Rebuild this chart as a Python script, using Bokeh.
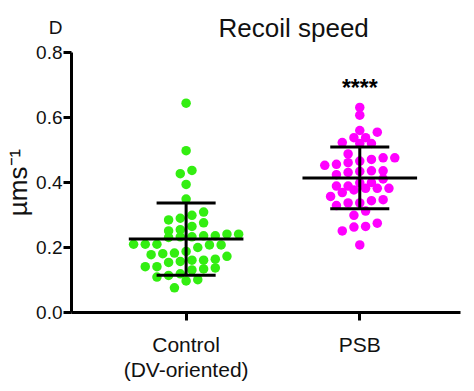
import numpy as np
from bokeh.plotting import figure
from bokeh.models import Range1d, FixedTicker, Label
from bokeh.core.properties import value
from bokeh.embed import file_html
from bokeh.resources import INLINE

# ---------------- data ----------------
categories = ["Control\n(DV-oriented)", "PSB"]
cat_pos = [1, 2]

control_values = [0.644, 0.498, 0.437, 0.427, 0.394, 0.349,
                  0.299, 0.309, 0.285, 0.276, 0.290, 0.265, 0.255, 0.251,
                  0.231, 0.241, 0.236, 0.233, 0.233, 0.236, 0.241,
                  0.208, 0.208, 0.200, 0.210, 0.210, 0.210,
                  0.181, 0.183, 0.178, 0.188, 0.173,
                  0.164, 0.161, 0.154, 0.141, 0.131, 0.134, 0.137, 0.141, 0.157, 0.161,
                  0.114, 0.101, 0.076, 0.097, 0.109, 0.119]

psb_values = [0.631, 0.607, 0.560, 0.538, 0.555, 0.538, 0.523, 0.520, 0.520,
              0.488, 0.461, 0.476, 0.453, 0.471, 0.466, 0.476, 0.456,
              0.436, 0.431, 0.424, 0.434, 0.436, 0.411, 0.400,
              0.399, 0.389, 0.382, 0.377, 0.369, 0.382, 0.382, 0.389,
              0.357, 0.344, 0.337, 0.312, 0.329, 0.337, 0.347,
              0.299, 0.265, 0.251, 0.263, 0.275, 0.208]

means = [0.226, 0.414]
sds = [0.111, 0.095]

y_ticks = [0.0, 0.2, 0.4, 0.6, 0.8]
y_tick_labels = ["0.0", "0.2", "0.4", "0.6", "0.8"]
significance = "****"
panel_letter = "D"
title_text = "Recoil speed"
y_label = "µms⁻¹"

colors = ["#33ee11", "#ff00ff"]

# ---------------- figure ----------------
BL, BR, BT, BB = 70, 6, 51, 63
W, H = 466, 383
x0, x1 = 0.34, 2.58
y0, y1 = 0.0, 0.8
FONT = "Liberation Sans"

p = figure(width=W, height=H, output_backend="svg", toolbar_location=None,
           x_range=Range1d(x0, x1), y_range=Range1d(y0, y1),
           min_border_left=BL, min_border_right=BR, min_border_top=BT, min_border_bottom=BB)

frame_w = W - BL - BR
frame_h = H - BT - BB
px_per_x = frame_w / (x1 - x0)
px_per_y = frame_h / (y1 - y0)

def swarm(vals, center, spacing_px=11.7):
    vals = np.asarray(vals, dtype=float)
    binh = spacing_px / px_per_y
    bins = np.floor(vals / binh).astype(int)
    xs = np.zeros_like(vals)
    for b in np.unique(bins):
        idx = np.where(bins == b)[0]
        idx = idx[np.argsort(vals[idx])]
        n = len(idx)
        offs = (np.arange(n) - (n - 1) / 2.0) * spacing_px / px_per_x
        xs[idx] = center + offs
    return xs

for vals, c, pos in zip([control_values, psb_values], colors, cat_pos):
    xs = swarm(vals, pos)
    p.scatter(xs, vals, size=9.5, fill_color=c, line_color=c, line_width=0)

# mean and SD bars
mean_half = 0.33
cap_half = 0.17
for pos, m, s in zip(cat_pos, means, sds):
    p.segment(x0=[pos - mean_half], y0=[m], x1=[pos + mean_half], y1=[m], line_color="black", line_width=3)
    p.segment(x0=[pos], y0=[m - s], x1=[pos], y1=[m + s], line_color="black", line_width=3)
    p.segment(x0=[pos - cap_half, pos - cap_half], y0=[m - s, m + s],
              x1=[pos + cap_half, pos + cap_half], y1=[m - s, m + s], line_color="black", line_width=3)

# significance stars
p.text(x=[cat_pos[1]], y=[0.69], text=[significance], text_font=value(FONT), text_font_size="23px",
       text_font_style="bold", text_align="center", text_baseline="alphabetic", text_color="black")

# axes styling
p.grid.visible = False
p.outline_line_color = None
for ax in (p.xaxis[0], p.yaxis[0]):
    ax.axis_line_width = 3
    ax.axis_line_color = "black"
    ax.major_tick_line_width = 3
    ax.major_tick_line_color = "black"
    ax.major_tick_out = 8
    ax.major_tick_in = 0
    ax.minor_tick_line_color = None
    ax.major_label_text_font = FONT
    ax.major_label_text_color = "#111111"

# panel letter: a free Label if annotations can be unclipped, otherwise stacked
# above the top y tick label
label_props = Label.properties()
letter_as_label = "clip" in label_props

overrides = {t: l for t, l in zip(y_ticks, y_tick_labels)}
if not letter_as_label:
    overrides[y_ticks[-1]] = panel_letter + "\n" + y_tick_labels[-1] + "\n "
    p.yaxis.major_label_text_line_height = 1.2

p.yaxis.ticker = FixedTicker(ticks=y_ticks)
p.yaxis.major_label_overrides = overrides
p.yaxis.major_label_text_font_size = "19px"
p.yaxis.major_label_standoff = 1
p.yaxis.axis_label = y_label
p.yaxis.axis_label_text_font = FONT
p.yaxis.axis_label_text_font_size = "26px"
p.yaxis.axis_label_text_font_style = "normal"
p.yaxis.axis_label_text_color = "#111111"
p.yaxis.axis_label_standoff = 0

p.xaxis.ticker = FixedTicker(ticks=cat_pos)
p.xaxis.major_label_overrides = {pos: lab for pos, lab in zip(cat_pos, categories)}
p.xaxis.major_label_text_font_size = "21px"
p.xaxis.major_label_text_line_height = 1.1
p.xaxis.major_label_standoff = 12

# title
p.title.text = title_text
p.title.text_font = FONT
p.title.text_font_size = "26px"
p.title.text_font_style = "normal"
p.title.text_color = "#111111"
p.title.align = "left"
p.title.offset = 147
p.title.standoff = 20

if letter_as_label:
    lab = Label(x=-13, y=frame_h + 27, x_units="screen", y_units="screen", text=panel_letter,
                text_font=FONT, text_font_size="19px", text_font_style="bold",
                text_align="center", text_baseline="middle", level="overlay")
    lab.clip = False
    p.add_layout(lab)

open("out.html", "w").write(file_html(p, INLINE))
